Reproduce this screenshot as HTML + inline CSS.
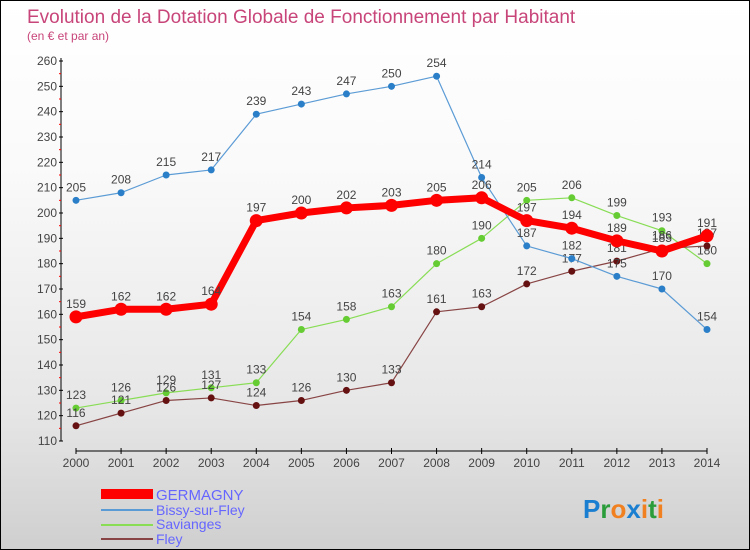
<!DOCTYPE html>
<html><head><meta charset="utf-8"><style>
body{margin:0}
#wrap{width:748px;height:548px;border:1px solid #000;background:linear-gradient(#fff,#fafafa 30%,#e6e6e6 75%,#cfcfcf);position:relative;overflow:hidden;font-family:"Liberation Sans",sans-serif}
</style></head><body>
<div id="wrap">
<svg id="svg" width="748" height="548" xmlns="http://www.w3.org/2000/svg" style="position:absolute;left:0;top:0">
<text x="26" y="22" font-size="19" fill="#c8457a">Evolution de la Dotation Globale de Fonctionnement par Habitant</text>
<text x="26" y="39" font-size="12" fill="#c8457a">(en € et par an)</text>
<g id="axes"></g><g id="series"></g>
<g>
<rect x="100" y="488" width="52" height="10" fill="#f00"/>
<text x="155" y="499" font-size="15" fill="#6666ff">GERMAGNY</text>
<line x1="100" y1="509" x2="152" y2="509" stroke="#5b9bd5" stroke-width="2"/>
<text x="155" y="514" font-size="14" fill="#6666ff">Bissy-sur-Fley</text>
<line x1="100" y1="524" x2="152" y2="524" stroke="#88dd55" stroke-width="2"/>
<text x="155" y="528" font-size="14" fill="#6666ff">Savianges</text>
<line x1="100" y1="538" x2="152" y2="538" stroke="#884444" stroke-width="2"/>
<text x="155" y="543" font-size="14" fill="#6666ff">Fley</text>
</g>
<text x="582" y="517" font-size="26" font-weight="bold"><tspan fill="#1a7fd0">P</tspan><tspan fill="#2a9d3a">r</tspan><tspan fill="#f08020">o</tspan><tspan fill="#1a7fd0">x</tspan><tspan fill="#f08020">i</tspan><tspan fill="#2a9d3a">t</tspan><tspan fill="#f08020">i</tspan></text>
</svg></div>
<script>
const years=[2000,2001,2002,2003,2004,2005,2006,2007,2008,2009,2010,2011,2012,2013,2014];
const yTicks=[110,120,130,140,150,160,170,180,190,200,210,220,230,240,250,260];
const germagny=[159,162,162,164,197,200,202,203,205,206,197,194,189,185,191];
const bissy=[205,208,215,217,239,243,247,250,254,214,187,182,175,170,154];
const saviange=[123,126,129,131,133,154,158,163,180,190,205,206,199,193,180];
const fley=[116,121,126,127,124,126,130,133,161,163,172,177,181,186,187];
const NS="http://www.w3.org/2000/svg";
const xS=i=>75+i*(706-75)/(years.length-1);
const yS=v=>440-(v-110)*(380/150);
function mk(tag,attrs,parent){const e=document.createElementNS(NS,tag);for(const k in attrs)e.setAttribute(k,attrs[k]);parent.appendChild(e);return e;}
const axes=document.getElementById('axes');
mk('line',{x1:60,y1:57,x2:60,y2:440,stroke:'#000','stroke-width':1},axes);
mk('line',{x1:75,y1:450,x2:706,y2:450,stroke:'#000','stroke-width':1},axes);
yTicks.forEach(t=>{
 mk('line',{x1:58,y1:yS(t),x2:62,y2:yS(t),stroke:'#000'},axes);
 if(t<260) mk('line',{x1:58,y1:yS(t+5),x2:60,y2:yS(t+5),stroke:'#f00'},axes);
 const tx=mk('text',{x:56,y:yS(t)+4,'font-size':12,fill:'#444','text-anchor':'end'},axes);
 tx.textContent=t;
 
 
});
years.forEach((y,i)=>{
 mk('line',{x1:xS(i),y1:447,x2:xS(i),y2:453,stroke:'#000'},axes);
 const tx=mk('text',{x:xS(i),y:466,'font-size':12,fill:'#444','text-anchor':'middle'},axes);
 tx.textContent=y;
 
 
});
const sg=document.getElementById('series');
function draw(vals,color,dot,w,r,name){
 const g=mk('g',{},sg);
 
 
 mk('polyline',{points:vals.map((v,i)=>xS(i)+','+yS(v)).join(' '),fill:'none',stroke:color,'stroke-width':w,'stroke-linejoin':'round'},g);
 vals.forEach((v,i)=>{
  const c=mk('circle',{cx:xS(i),cy:yS(v),r:r,fill:dot},g);
  
  
  const t=mk('text',{x:xS(i),y:yS(v)-9,'font-size':12,fill:'#444','text-anchor':'middle'},g);
  t.textContent=v;
  
  
 });
}
draw(saviange,'#88dd55','#66cc33',1.2,3.5,'series-saviange');
draw(fley,'#884444','#661111',1.2,3.5,'series-fley');
draw(bissy,'#5b9bd5','#2a7fc8',1.2,3.5,'series-bissy');
draw(germagny,'#f00','#f00',7,6.5,'series-germagny');
</script>
</body></html>
